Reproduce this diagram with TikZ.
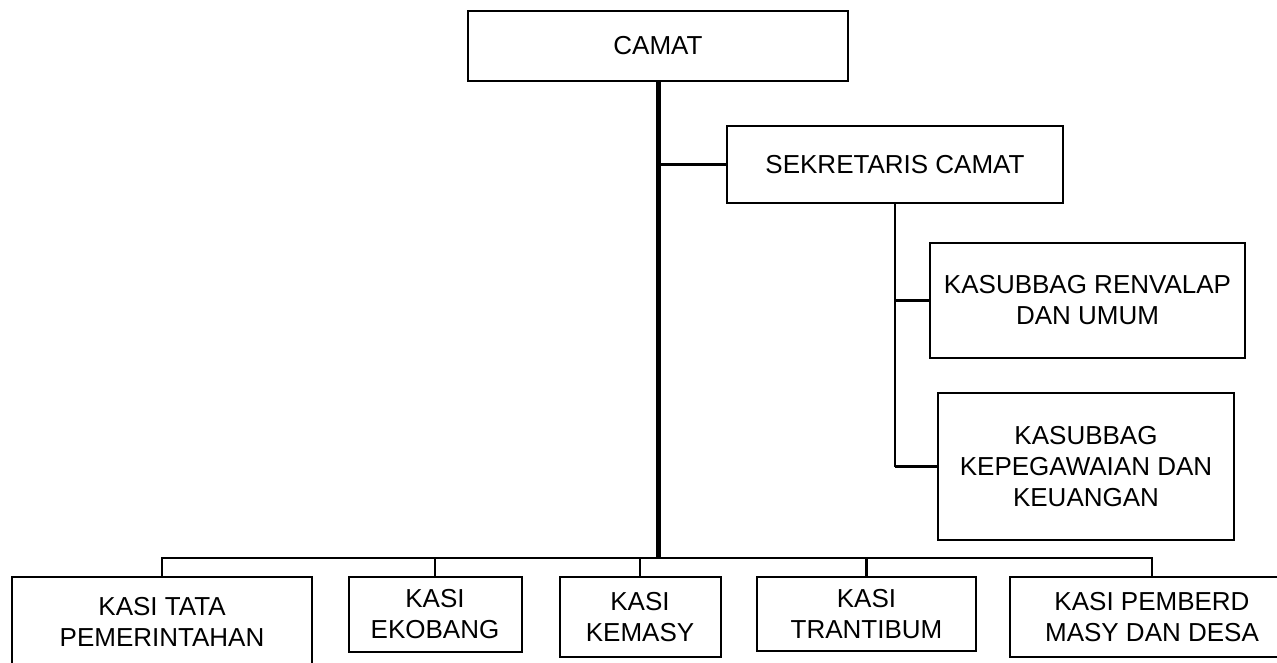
\documentclass[tikz,border=0pt]{standalone}
\usepackage{fontspec}
\setmainfont{Liberation Sans}
\begin{document}
\begin{tikzpicture}[x=1pt,y=-1pt,
  box/.style={draw, line width=2pt, rectangle, inner sep=0pt, align=center,
    font=\fontsize{26}{31}\selectfont},
  conn/.style={line width=2.2pt},
  trunk/.style={line width=5pt}]
\useasboundingbox (0,0) rectangle (1277,662);
\clip (0,0) rectangle (1277,662);
\fill[white] (0,0) rectangle (1277,662);
% boxes
\node[box, minimum width=380, minimum height=70] (camat) at (658,46) {CAMAT};
\node[box, minimum width=336, minimum height=77] (sek) at (895,164.5) {SEKRETARIS CAMAT};
\node[box, minimum width=315, minimum height=115] (renv) at (1087.5,300.5) {KASUBBAG RENVALAP\\DAN UMUM};
\node[box, minimum width=296, minimum height=147] (kepeg) at (1086,466.5) {KASUBBAG\\KEPEGAWAIAN DAN\\KEUANGAN};
\node[box, minimum width=300, minimum height=90] (tata) at (162,622) {KASI TATA\\PEMERINTAHAN};
\node[box, minimum width=173, minimum height=75] (ekobang) at (435,614.5) {KASI\\EKOBANG};
\node[box, minimum width=161, minimum height=80] (kemasy) at (640,617) {KASI\\KEMASY};
\node[box, minimum width=219, minimum height=74] (trantibum) at (866.5,614) {KASI\\TRANTIBUM};
\node[box, minimum width=284, minimum height=80] (pemberd) at (1152,617) {KASI PEMBERD\\MASY DAN DESA};
\coordinate (bus) at (162,558);
% connectors
\draw[trunk] (camat.south) -- (camat.south |- bus);
\draw[conn] (camat.south |- sek.west) -- (sek.west);
\draw[conn] (sek.south) -- (sek.south |- kepeg.west);
\draw[conn] (sek.south |- renv.west) -- (renv.west);
\draw[conn] (sek.south |- kepeg.west) -- (kepeg.west);
\draw[conn] (tata.north) |- (pemberd.north |- bus) -- (pemberd.north);
\draw[conn] (ekobang.north) -- (ekobang.north |- bus);
\draw[conn] (kemasy.north) -- (kemasy.north |- bus);
\draw[conn] (trantibum.north) -- (trantibum.north |- bus);
\end{tikzpicture}
\end{document}
